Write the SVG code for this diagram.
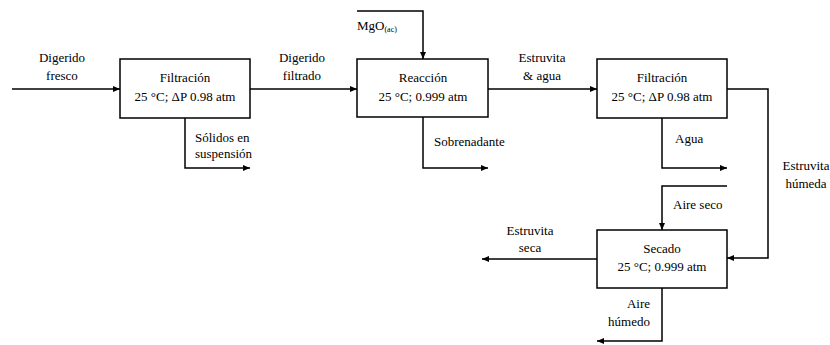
<svg xmlns="http://www.w3.org/2000/svg" width="830" height="345" viewBox="0 0 830 345">
<style>
text{font-family:"Liberation Serif","Times New Roman","DejaVu Serif",serif;font-size:13px;fill:#000}
.c{text-anchor:middle}
.r{text-anchor:end}
.box{fill:#fff;stroke:#000;stroke-width:1.5}
.ln{fill:none;stroke:#000;stroke-width:1.5}
</style>
<defs>
<marker id="ah" viewBox="0 0 8 8" refX="7" refY="4" markerWidth="8" markerHeight="8" markerUnits="userSpaceOnUse" orient="auto">
<path d="M0,1 L7,4 L0,7 Z" fill="#000"/>
</marker>
</defs>
<rect width="830" height="345" fill="#fff"/>
<g id="connectors">
<path class="ln" d="M12 89 H120" marker-end="url(#ah)"/>
<path class="ln" d="M250 89 H357" marker-end="url(#ah)"/>
<path class="ln" d="M185 118 V168 H250" marker-end="url(#ah)"/>
<path class="ln" d="M357 11 H423 V59" marker-end="url(#ah)"/>
<path class="ln" d="M488 89 H597" marker-end="url(#ah)"/>
<path class="ln" d="M423 117 V168 H488" marker-end="url(#ah)"/>
<path class="ln" d="M662 118 V168 H727" marker-end="url(#ah)"/>
<path class="ln" d="M727 89 H768 V258 H727" marker-end="url(#ah)"/>
<path class="ln" d="M727 186 H662 V230" marker-end="url(#ah)"/>
<path class="ln" d="M597 259 H482" marker-end="url(#ah)"/>
<path class="ln" d="M662 288 V341 H597" marker-end="url(#ah)"/>
</g>
<g id="labels">
<text class="c" x="62" y="62">Digerido</text>
<text class="c" x="62" y="80">fresco</text>
<text x="195" y="142">Sólidos en</text>
<text x="195" y="158">suspensión</text>
<text class="c" x="302" y="62">Digerido</text>
<text class="c" x="302" y="80">filtrado</text>
<text x="357" y="30">MgO<tspan font-size="8" dy="2">(ac)</tspan></text>
<text x="434" y="146">Sobrenadante</text>
<text class="c" x="542" y="62">Estruvita</text>
<text class="c" x="542" y="80">&amp; agua</text>
<text x="675" y="143">Agua</text>
<text class="c" x="806" y="170">Estruvita</text>
<text class="c" x="806" y="188">húmeda</text>
<text x="673" y="209">Aire seco</text>
<text class="c" x="530" y="235">Estruvita</text>
<text class="c" x="530" y="252">seca</text>
<text class="r" x="650" y="308">Aire</text>
<text class="r" x="650" y="326">húmedo</text>
</g>
<g id="filtracion1">
<rect class="box" x="120" y="59" width="130" height="59"/>
<text class="c" x="185" y="82">Filtración</text>
<text class="c" x="185" y="101">25 °C; ΔP 0.98 atm</text>
</g>
<g id="reaccion">
<rect class="box" x="357" y="59" width="131" height="58"/>
<text class="c" x="423" y="82">Reacción</text>
<text class="c" x="423" y="101">25 °C; 0.999 atm</text>
</g>
<g id="filtracion2">
<rect class="box" x="597" y="59" width="130" height="59"/>
<text class="c" x="662" y="82">Filtración</text>
<text class="c" x="662" y="101">25 °C; ΔP 0.98 atm</text>
</g>
<g id="secado">
<rect class="box" x="597" y="230" width="130" height="58"/>
<text class="c" x="662" y="253">Secado</text>
<text class="c" x="662" y="271">25 °C; 0.999 atm</text>
</g>
</svg>
